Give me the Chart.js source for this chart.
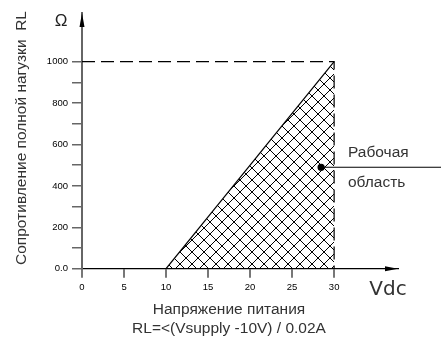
<!DOCTYPE html>
<html>
<head>
<meta charset="utf-8">
<script src="https://cdn.jsdelivr.net/npm/chart.js@4.4.1/dist/chart.umd.min.js"></script>
<style>
  html, body { margin: 0; padding: 0; background: #fff; }
  #wrap { width: 441px; height: 342px; }
</style>
</head>
<body>
<div id="wrap"><canvas id="loadChart" width="441" height="342"></canvas></div>
<script>
// шкалы
const xTicks = [0, 5, 10, 15, 20, 25, 30];
const yTicks = [0, 100, 200, 300, 400, 500, 600, 700, 800, 900, 1000];
const yLabeled = [0, 200, 400, 600, 800, 1000];
const xMax = 37.6;
const yMax = 1235;

// рабочая область
const areaX = [10, 30];
const areaY = [0, 1000];
// пунктир предела
const limitX = [0, 30, 30];
const limitY = [1000, 1000, 0];
// выноска
const markX = [28.45, 43];
const markY = [490, 490];

const font = "'Liberation Sans', Arial, sans-serif";

let toPoints = function(xs, ys){
    return xs.map((x, i) => ({x: x, y: ys[i]}));
}

let makeHatch = function(){
    let c = document.createElement("canvas");
    c.width = 12; c.height = 12;
    let g = c.getContext("2d");
    g.strokeStyle = "#000";
    g.lineWidth = 1;
    g.beginPath();
    g.moveTo(0, 0); g.lineTo(12, 12);
    g.moveTo(12, 0); g.lineTo(0, 12);
    g.stroke();
    return g.createPattern(c, "repeat");
}

let decor = {
    id: "decor",
    afterDraw(chart){
        const ctx = chart.ctx;
        const xs = chart.scales.x, ys = chart.scales.y;
        const x0 = xs.getPixelForValue(0), y0 = ys.getPixelForValue(0);
        const xEnd = xs.getPixelForValue(xMax), yEnd = ys.getPixelForValue(yMax);
        ctx.save();
        ctx.fillStyle = "#000";
        // стрелки
        ctx.beginPath();
        ctx.moveTo(x0, yEnd);
        ctx.lineTo(x0 - 2.5, yEnd + 14);
        ctx.lineTo(x0 + 2.5, yEnd + 14);
        ctx.closePath();
        ctx.fill();
        ctx.beginPath();
        ctx.moveTo(xEnd, y0);
        ctx.lineTo(xEnd - 13, y0 - 2.5);
        ctx.lineTo(xEnd - 13, y0 + 2.5);
        ctx.closePath();
        ctx.fill();

        ctx.fillStyle = "#222";
        ctx.textBaseline = "middle";
        ctx.textAlign = "center";
        ctx.font = "17px " + font;
        ctx.fillText("Ω", 61, 21);
        ctx.fillStyle = "#333";
        ctx.font = "20px 'DejaVu Sans', sans-serif";
        ctx.fillText("Vdc", 388, 290);

        ctx.font = "15.5px " + font;
        ctx.fillStyle = "#333";
        ctx.fillText("Напряжение питания", 229, 310);
        ctx.fillText("RL=<(Vsupply -10V) / 0.02A", 229, 329);

        ctx.save();
        ctx.translate(22, 138);
        ctx.rotate(-Math.PI / 2);
        ctx.fillText("Сопротивление полной нагузки  RL", 0, 0);
        ctx.restore();

        ctx.textAlign = "left";
        ctx.font = "15.5px " + font;
        ctx.fillText("Рабочая", 348, 153);
        ctx.fillText("область", 348, 183);
        ctx.restore();
    }
}

function $id(id){ return document.getElementById(id); }
let ctx = $id("loadChart").getContext("2d");

let myChart = new Chart(ctx, {
    type: "scatter",
    data: {
        datasets: [{
            data: toPoints(areaX, areaY),
            showLine: true,
            fill: "origin",
            backgroundColor: makeHatch(),
            borderColor: "#000",
            borderWidth: 1.2,
            pointRadius: 0
        }, {
            data: toPoints(limitX, limitY),
            showLine: true,
            fill: false,
            borderColor: "#000",
            borderWidth: 1.2,
            borderDash: [13, 6],
            pointRadius: 0
        }, {
            data: toPoints(markX, markY),
            showLine: true,
            fill: false,
            clip: false,
            borderColor: "#000",
            borderWidth: 1.2,
            pointRadius: [3, 0],
            pointBackgroundColor: "#000",
            pointBorderColor: "#000"
        }]
    },
    options: {
        responsive: false,
        animation: false,
        events: [],
        layout: { padding: { top: 13, right: 43, left: 0, bottom: 0 } },
        plugins: { legend: { display: false }, tooltip: { enabled: false } },
        scales: {
            x: {
                type: "linear",
                min: 0,
                max: xMax,
                afterBuildTicks: (s) => { s.ticks = xTicks.map(v => ({value: v})); },
                afterFit: (s) => { s.height = 73.3; },
                border: { display: true, color: "#000", width: 1.2 },
                grid: { drawOnChartArea: false, drawTicks: true, tickLength: 9, color: "#777", lineWidth: 2 },
                ticks: { color: "#000", padding: 4, maxRotation: 0, autoSkip: false, font: { family: font, size: 9.5 } }
            },
            y: {
                type: "linear",
                min: 0,
                max: yMax,
                afterBuildTicks: (s) => { s.ticks = yTicks.map(v => ({value: v})); },
                afterFit: (s) => { s.width = 82; },
                border: { display: true, color: "#666", width: 2 },
                grid: { drawOnChartArea: false, drawTicks: true, tickLength: 10, color: "#666", lineWidth: 1.5 },
                ticks: {
                    color: "#000",
                    padding: 4,
                    autoSkip: false,
                    font: { family: font, size: 9.5 },
                    callback: (v) => v === 0 ? "0.0" : (yLabeled.includes(v) ? String(v) : "")
                }
            }
        }
    },
    plugins: [decor]
});
</script>
</body>
</html>
